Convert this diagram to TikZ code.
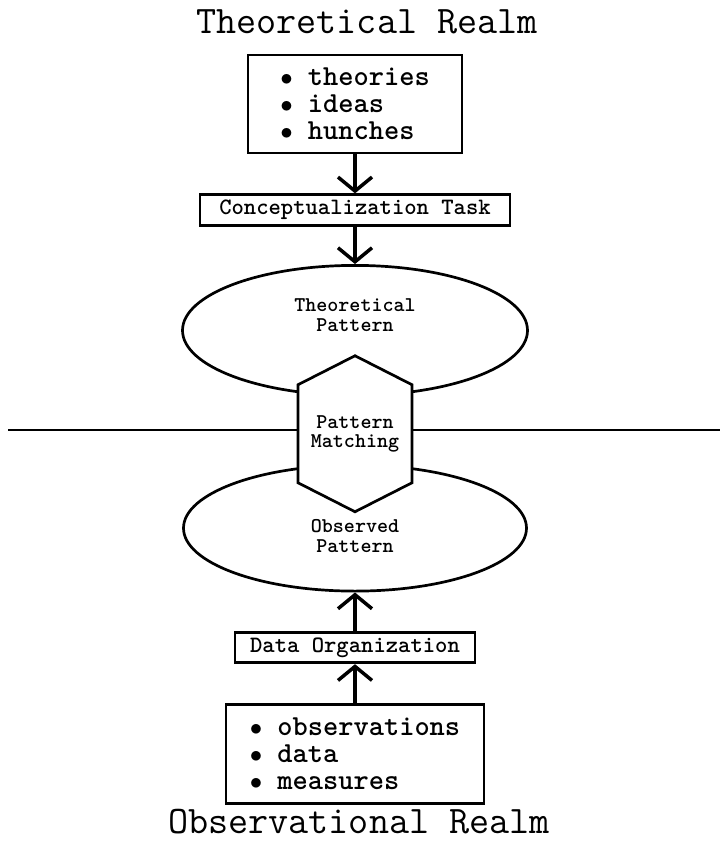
\documentclass[tikz,border=0pt]{standalone}
\usepackage{fontspec}
\usepackage{tikz}
\usetikzlibrary{arrows.meta,shapes}
\usetikzlibrary{positioning}
\newcommand{\lift}[2]{\raisebox{#1}[0pt][0pt]{\begin{tabular}{@{}c@{}}#2\end{tabular}}}

\begin{document}
\begin{tikzpicture}[x=1pt, y=-1pt, node distance=39pt]
\tikzstyle{realm} = [font=\fontsize{39}{39}\selectfont\ttfamily, inner sep=0pt]
\tikzstyle{list} = [rectangle, draw = black, line width=2.7pt, align=left, font=\fontsize{29}{27}\selectfont\ttfamily\bfseries]
\tikzstyle{task} = [rectangle, draw = black, line width=2.7pt, inner sep=0pt, font=\fontsize{23.5}{24}\selectfont\ttfamily\bfseries]
\tikzstyle{pattern} = [ellipse, draw = black, line width=2.7pt, inner sep=0pt, font=\fontsize{21}{20}\selectfont\ttfamily\bfseries]
\tikzstyle{hexagon} = [draw = black, fill = white, line width=2.7pt, line join=miter]
\tikzstyle{flow} = [-{Straight Barb[length=14pt, width=34pt]}, line width=3.5pt]
\useasboundingbox (0,0) rectangle (720,843);
\node (theoryrealm) [realm] at (367,22) {Theoretical Realm};
\node (ideas) [list, minimum width=214pt, minimum height=98pt] at (355,104) {$\bullet$ theories\\ $\bullet$ ideas\\ $\bullet$ hunches};
\node (concept) [task, below = of ideas, minimum width=310pt, minimum height=31pt] {Conceptualization Task};
\node (theo) [pattern, below = 37pt of concept, minimum width=345pt, minimum height=130pt] {\lift{8pt}{Theoretical\\Pattern}};
\node (obs) [pattern, below = 67pt of theo, minimum width=343pt, minimum height=126pt] {\lift{-16pt}{Observed\\Pattern}};
\node (organize) [task, below = of obs, minimum width=240pt, minimum height=30pt] {Data Organization};
\node (facts) [list, below = 39pt of organize, minimum width=258pt, minimum height=99pt] {$\bullet$ observations\\ $\bullet$ data\\ $\bullet$ measures};
\node (obsrealm) [realm] at (359,822) {Observational Realm};
\draw [flow] (ideas) -- (concept);
\draw [flow] (concept) -- (theo);
\draw [flow] (organize) -- (obs);
\draw [flow] (facts) -- (organize);
% the realm border and the matching step
\coordinate [below = 37pt of theo.south] (mid);
\coordinate (edgeL) at (8,430);
\coordinate (edgeR) at (720,430);
\draw [line width=2.2pt] (edgeL) -- (edgeR);
\draw [hexagon, shift={(mid)}] (-57,-49) -- (0,-78) -- (57,-49) -- (57,49) -- (0,78) -- (-57,49) -- cycle;
\node (match) [align=center, font=\fontsize{21}{19}\selectfont\ttfamily\bfseries] at (mid) {Pattern\\Matching};
\end{tikzpicture}
\end{document}
